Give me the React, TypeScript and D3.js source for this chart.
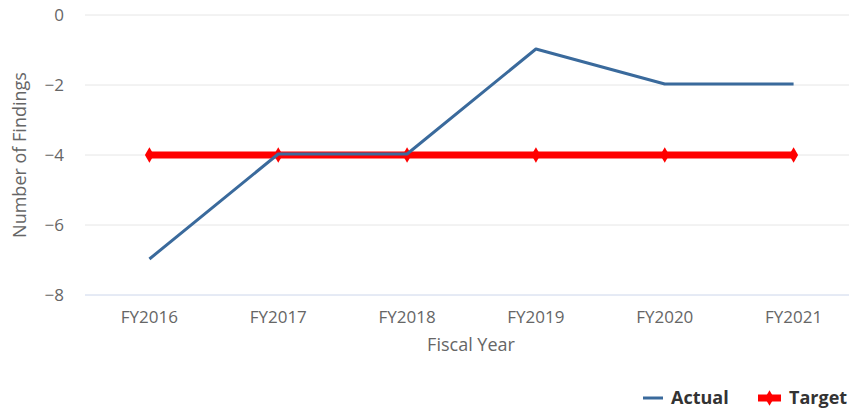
import React from "react";
import * as d3 from "d3";

const categories = ["FY2016", "FY2017", "FY2018", "FY2019", "FY2020", "FY2021"];
const actualValues = [-7, -4, -4, -1, -2, -2];
const targetValues = [-4, -4, -4, -4, -4, -4];
const yTicks = [0, -2, -4, -6, -8];

const W = 849;
const H = 411;
const FONT = "'Open Sans', sans-serif";

export default function App() {
  const x = d3.scaleBand<string>().domain(categories).range([85, 858]);
  const y = d3.scaleLinear().domain([-8, 0]).range([295, 15]);
  const cx = (c: string) => (x(c) as number) + x.bandwidth() / 2;

  const line = d3
    .line<number>()
    .x((_, i) => cx(categories[i]))
    .y((d) => y(d));

  const diamond = d3.symbol().type(d3.symbolDiamond).size(70)() as string;

  return (
    <div style={{ position: "absolute", left: 0, top: 0 }}>
      <svg width={W} height={H} style={{ display: "block", background: "#fff" }}>
        {yTicks.map((t) =>
          t === -8 ? null : (
            <line key={t} x1={85} x2={W} y1={y(t)} y2={y(t)} stroke="#e6e6e6" strokeWidth={1} />
          )
        )}
        <line x1={85} x2={W} y1={y(-8)} y2={y(-8)} stroke="#ccd6eb" strokeWidth={1} />
        {yTicks.map((t) => (
          <text
            key={t}
            x={64}
            y={y(t)}
            dy="0.35em"
            textAnchor="end"
            fontFamily={FONT}
            fontSize={17}
            fill="#666"
          >
            {t === 0 ? "0" : "\u2212" + Math.abs(t)}
          </text>
        ))}
        <text
          transform={`translate(20,${y(-4)}) rotate(-90)`}
          textAnchor="middle"
          dy="0.35em"
          fontFamily={FONT}
          fontSize={18}
          fill="#666"
        >
          Number of Findings
        </text>
        {categories.map((c) => (
          <text
            key={c}
            x={cx(c)}
            y={317}
            dy="0.35em"
            textAnchor="middle"
            fontFamily={FONT}
            fontSize={17}
            fill="#666"
          >
            {c}
          </text>
        ))}
        <text x={471} y={345} dy="0.35em" textAnchor="middle" fontFamily={FONT} fontSize={18} fill="#666">
          Fiscal Year
        </text>

        <path d={line(targetValues) as string} fill="none" stroke="#ff0000" strokeWidth={7} />
        {targetValues.map((v, i) => (
          <path key={i} d={diamond} transform={`translate(${cx(categories[i])},${y(v)})`} fill="#ff0000" />
        ))}
        <path
          d={line(actualValues) as string}
          fill="none"
          stroke="#3a6a9c"
          strokeWidth={3}
          strokeLinejoin="round"
          transform="translate(0,-1)"
        />

        <line x1={643} x2={663} y1={398} y2={398} stroke="#3a6a9c" strokeWidth={3} />
        <text x={671} y={398} dy="0.35em" fontFamily={FONT} fontSize={18} fontWeight="bold" fill="#333">
          Actual
        </text>
        <line x1={758} x2={781} y1={398} y2={398} stroke="#ff0000" strokeWidth={7} />
        <path d={diamond} transform="translate(769.5,398)" fill="#ff0000" />
        <text x={789} y={398} dy="0.35em" fontFamily={FONT} fontSize={18} fontWeight="bold" fill="#333">
          Target
        </text>
      </svg>
    </div>
  );
}
